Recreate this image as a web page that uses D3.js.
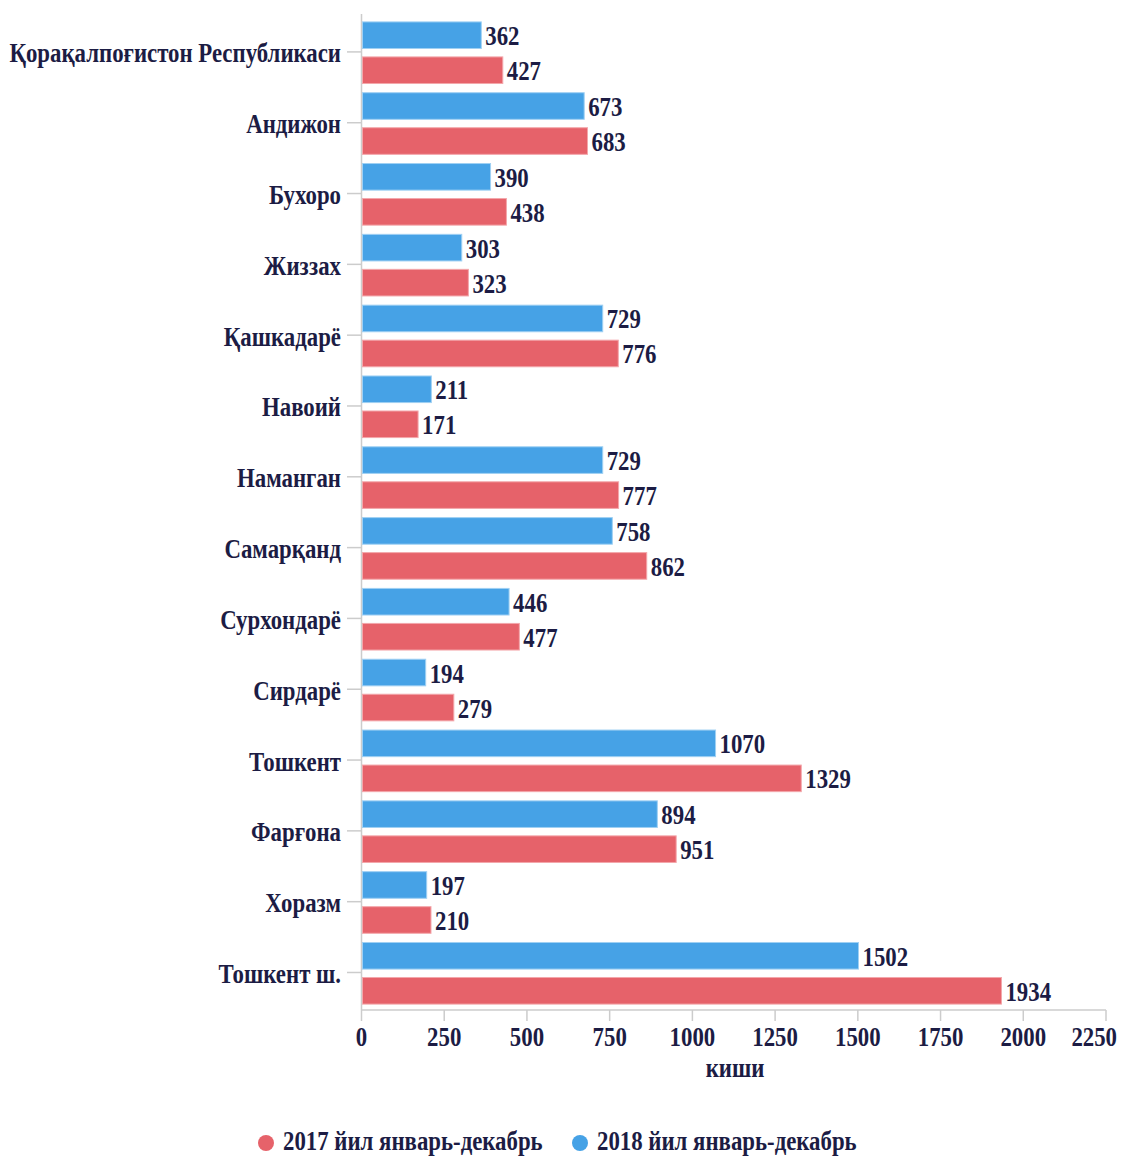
<!DOCTYPE html>
<html>
<head>
<meta charset="utf-8">
<script src="https://cdn.jsdelivr.net/npm/d3@7"></script>
<style>
html,body{margin:0;padding:0;background:#fff;}
svg{display:block;}
</style>
</head>
<body>
<svg id="chart" width="1123" height="1158"></svg>
<script>
const categories = ["Қорақалпоғистон Республикаси","Андижон","Бухоро","Жиззах","Қашкадарё","Навоий","Наманган","Самарқанд","Сурхондарё","Сирдарё","Тошкент","Фарғона","Хоразм","Тошкент ш."];
const values2018 = [362,673,390,303,729,211,729,758,446,194,1070,894,197,1502];
const values2017 = [427,683,438,323,776,171,777,862,477,279,1329,951,210,1934];
const seriesNames = ["2018 йил январь-декабрь","2017 йил январь-декабрь"];
const legendOrder = ["2017 йил январь-декабрь","2018 йил январь-декабрь"];
const xTicks = [0,250,500,750,1000,1250,1500,1750,2000,2250];
const xTitle = "киши";

const colors = {"2018 йил январь-декабрь":"#46a2e6","2017 йил январь-декабрь":"#e6626a"};
const strokes = {"2018 йил январь-декабрь":"#9fd0f3","2017 йил январь-декабрь":"#f3a7ab"};
const textColor = "#1c1c44";
const FONT = "'Liberation Serif','Times New Roman',serif";
const FS = 28, SX = 0.815;

const svg = d3.select("#chart");
const x = d3.scaleLinear().domain([0,2250]).range([361.5,1106]);
const y = d3.scaleBand().domain(categories).range([17.3,1008.7]).padding(0);
const ySub = d3.scaleBand().domain(seriesNames).range([4.6, y.bandwidth()-4.6]).paddingInner(0.24);

function addText(g, str, tx, ty, anchor, size){
  return g.append("text")
    .attr("transform", `translate(${tx},${ty}) scale(${SX},1)`)
    .attr("text-anchor", anchor)
    .attr("font-family", FONT)
    .attr("font-weight", "bold")
    .attr("font-size", size || FS)
    .attr("fill", textColor)
    .text(str);
}

// Y axis line
svg.append("line").attr("x1",361.5).attr("x2",361.5).attr("y1",14).attr("y2",1010)
  .attr("stroke","#cccccc").attr("stroke-width",1.5);
// X axis line
svg.append("line").attr("x1",361.5).attr("x2",x(2250)).attr("y1",1010).attr("y2",1010)
  .attr("stroke","#cccccc").attr("stroke-width",1.5);

// Y ticks & labels
const yAx = svg.append("g");
categories.forEach(c => {
  const cy = y(c) + y.bandwidth()/2 - 0.8;
  yAx.append("line").attr("x1",347).attr("x2",361.5).attr("y1",cy).attr("y2",cy)
    .attr("stroke","#cccccc").attr("stroke-width",1.5);
  addText(yAx, c, 341, cy + 10.5, "end");
});

// X ticks & labels
const xAx = svg.append("g");
xTicks.forEach((v,i) => {
  xAx.append("line").attr("x1",x(v)).attr("x2",x(v)).attr("y1",1010).attr("y2",1021)
    .attr("stroke","#cccccc").attr("stroke-width",1.5);
  if (i === xTicks.length - 1) addText(xAx, String(v), 1117, 1046, "end");
  else addText(xAx, String(v), x(v), 1046, "middle");
});
addText(svg, xTitle, 735, 1077, "middle");

// Bars
const data = [];
categories.forEach((c,i) => {
  data.push({cat:c, series:seriesNames[0], value:values2018[i]});
  data.push({cat:c, series:seriesNames[1], value:values2017[i]});
});
const bars = svg.append("g");
bars.selectAll("rect").data(data).join("rect")
  .attr("x", x(0)+1)
  .attr("y", d => y(d.cat) + ySub(d.series))
  .attr("width", d => x(d.value) - x(0) - 1)
  .attr("height", ySub.bandwidth())
  .attr("fill", d => colors[d.series])
  .attr("stroke", d => strokes[d.series])
  .attr("stroke-width", 1);

const labels = svg.append("g");
data.forEach(d => {
  addText(labels, String(d.value), x(d.value) + 4, y(d.cat) + ySub(d.series) + ySub.bandwidth()/2 + 10, "start");
});

// Legend
const lg = svg.append("g");
const legendX = [266, 580];
legendOrder.forEach((s,i) => {
  lg.append("circle").attr("cx", legendX[i]).attr("cy", 1143).attr("r", 8).attr("fill", colors[s]);
  addText(lg, s, legendX[i] + 17, 1150, "start");
});
</script>
</body>
</html>
